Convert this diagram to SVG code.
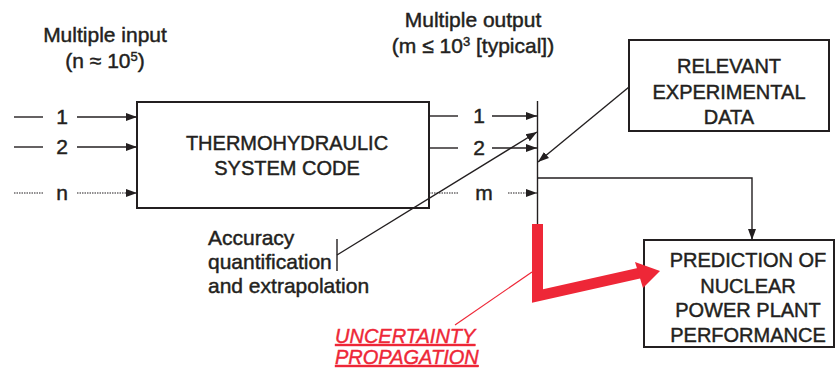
<svg xmlns="http://www.w3.org/2000/svg" width="836" height="372" viewBox="0 0 836 372">
<defs>
<style>
.t{font-family:"Liberation Sans",Arial,Helvetica,sans-serif;font-size:20px;fill:#231f20;stroke:#231f20;stroke-width:0.45}
.big{font-size:21px}
.c{text-anchor:middle}
.ln{stroke:#231f20;stroke-width:1.4;fill:none}
.dot{stroke:#231f20;stroke-width:1.2;fill:none;stroke-dasharray:1.5 1}
.box{stroke:#231f20;stroke-width:2;fill:#fff}
.red{fill:#ee2737}
.rt{font-family:"Liberation Sans",Arial,Helvetica,sans-serif;font-size:20px;fill:#ee2737;stroke:#ee2737;stroke-width:0.4;font-style:italic;text-decoration:underline}
</style>
<marker id="ah" markerWidth="12" markerHeight="10" refX="11" refY="5" orient="auto" markerUnits="userSpaceOnUse">
<path d="M0,1 L11,5 L0,9 Z" fill="#231f20"/>
</marker>
</defs>
<rect width="836" height="372" fill="#fff"/>

<g id="labels">
<text class="t big c" x="105" y="42">Multiple input</text>
<text class="t big c" x="105" y="68">(n ≈ 10<tspan font-size="13" dy="-7">5</tspan><tspan dy="7">)</tspan></text>
<text class="t big c" x="473" y="27">Multiple output</text>
<text class="t big c" x="473" y="53">(m ≤ 10<tspan font-size="13" dy="-7">3</tspan><tspan dy="7"> [typical])</tspan></text>
<text class="t big c" x="62" y="124">1</text>
<text class="t big c" x="62" y="154">2</text>
<text class="t big c" x="62" y="200">n</text>
<text class="t big c" x="479" y="123">1</text>
<text class="t big c" x="479" y="155">2</text>
<text class="t big c" x="484" y="200">m</text>
</g>

<g id="code">
<rect class="box" x="137" y="102" width="292" height="106"/>
<text class="t c" x="287" y="150">THERMOHYDRAULIC</text>
<text class="t c" x="287" y="175">SYSTEM CODE</text>
</g>

<g id="experimental">
<rect class="box" x="629" y="40" width="200" height="91"/>
<text class="t c" x="729" y="73">RELEVANT</text>
<text class="t c" x="729" y="99">EXPERIMENTAL</text>
<text class="t c" x="729" y="124">DATA</text>
</g>

<g id="prediction">
<rect class="box" x="644" y="240" width="190" height="107"/>
<text class="t c" x="748" y="267">PREDICTION OF</text>
<text class="t c" x="748" y="293">NUCLEAR</text>
<text class="t c" x="748" y="317">POWER PLANT</text>
<text class="t c" x="748" y="342">PERFORMANCE</text>
</g>

<g id="accuracy">
<text class="t big" x="208" y="245">Accuracy</text>
<text class="t big" x="208" y="269">quantification</text>
<text class="t big" x="208" y="293">and extrapolation</text>
<line class="ln" x1="337" y1="239" x2="337" y2="271"/>
</g>

<g id="uncertainty">
<text class="rt" x="335" y="343">UNCERTAINTY</text>
<text class="rt" x="335" y="364">PROPAGATION</text>
</g>

<g id="connectors">
<line class="ln" x1="14" y1="117" x2="43" y2="117"/>
<line class="ln" x1="77" y1="117" x2="137" y2="117" marker-end="url(#ah)"/>
<line class="ln" x1="14" y1="147" x2="43" y2="147"/>
<line class="ln" x1="77" y1="147" x2="137" y2="147" marker-end="url(#ah)"/>
<line class="dot" x1="14" y1="193" x2="43" y2="193"/>
<line class="dot" x1="77" y1="193" x2="137" y2="193" marker-end="url(#ah)"/>

<line class="ln" x1="429" y1="116" x2="458" y2="116"/>
<line class="ln" x1="492" y1="116" x2="537" y2="116" marker-end="url(#ah)"/>
<line class="ln" x1="429" y1="148" x2="458" y2="148"/>
<line class="ln" x1="492" y1="148" x2="537" y2="148" marker-end="url(#ah)"/>
<line class="dot" x1="429" y1="193" x2="458" y2="193"/>
<line class="dot" x1="508" y1="193" x2="537" y2="193" marker-end="url(#ah)"/>

<line class="ln" x1="537.5" y1="101" x2="537.5" y2="226" stroke-width="2"/>
<line class="ln" x1="337" y1="255" x2="537" y2="132" marker-end="url(#ah)"/>
<line class="ln" x1="629" y1="87" x2="538" y2="162" marker-end="url(#ah)"/>
<polyline class="ln" points="537.5,178 752,178 752,240" marker-end="url(#ah)"/>

<line x1="455" y1="325" x2="532" y2="272" stroke="#ee2737" stroke-width="1.2"/>
<path d="M537.5,224 L537.5,296 L640,273" fill="none" stroke="#ee2737" stroke-width="11" stroke-linejoin="miter"/>
<path class="red" d="M660,271 L635,262 L643,288 Z"/>
</g>
</svg>
